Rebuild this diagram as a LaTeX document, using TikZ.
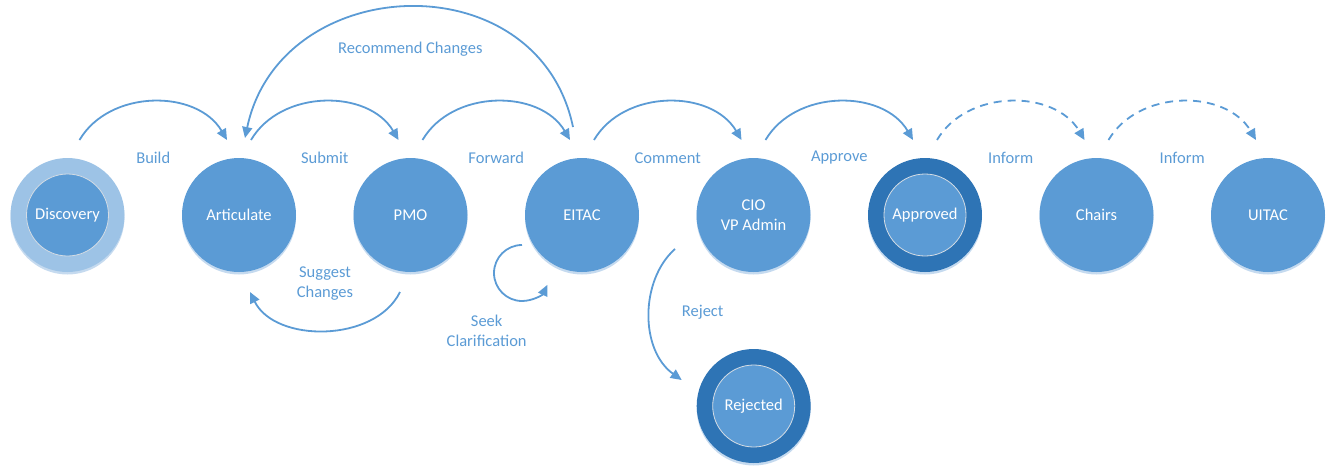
\documentclass[tikz,border=0pt]{standalone}
\usepackage{fontspec}
\setmainfont{Carlito}
\usetikzlibrary{arrows.meta,shadows}
\definecolor{cmain}{HTML}{5B9BD5}
\definecolor{clight}{HTML}{9DC3E6}
\definecolor{cdark}{HTML}{2E74B5}
\definecolor{cshadow}{HTML}{C5DAEF}
\definecolor{cedge}{HTML}{D4DCE4}
\definecolor{ctext}{HTML}{5B9BD5}
\tikzset{
  stnode/.style={circle, fill=cmain, minimum size=114pt, inner sep=0pt, text=white,
    font=\fontsize{16.5}{20}\selectfont, align=center,
    general shadow={fill=cshadow, shadow yshift=-2.5pt}},
  ringlight/.style={stnode, fill=clight},
  ringdark/.style={stnode, fill=cdark},
  innernode/.style={circle, fill=cmain, draw=cedge, line width=0.8pt, minimum size=82pt,
    inner sep=0pt, text=white, font=\fontsize{16.5}{20}\selectfont},
  lbl/.style={text=ctext, font=\fontsize{16.5}{20}\selectfont, align=center, inner sep=0pt},
  conn/.style={draw=cmain, line width=1.8pt, -{Triangle[length=11pt,width=10pt]}},
  dconn/.style={conn, dash pattern=on 8pt off 6pt},
}
\begin{document}
\begin{tikzpicture}[x=1pt,y=-1pt]
\useasboundingbox (0,0) rectangle (1331,466);
% nodes
\node[ringlight] (disc) at (67.5,215) {};
\node[innernode] (discin) at (disc.center) {Discovery};
\node[stnode] (art) at (239,215) {Articulate};
\node[stnode] (pmo) at (410.5,215) {PMO};
\node[stnode] (eitac) at (582,215) {EITAC};
\node[stnode] (cio) at (753.5,215) {CIO\\VP Admin};
\node[ringdark] (appr) at (925,215) {};
\node[innernode] (apprin) at (appr.center) {Approved};
\node[stnode] (chairs) at (1096.5,215) {Chairs};
\node[stnode] (uitac) at (1268,215) {UITAC};
\node[ringdark] (rej) at (753.7,406) {};
\node[innernode] (rejin) at (rej.center) {Rejected};
% connector end points
\foreach \n in {disc,art,pmo,eitac,cio,appr,chairs}{
  \coordinate (\n-os) at ([shift={(12,-75)}]\n.center);
}
\foreach \n in {art,pmo,eitac,cio,appr,chairs,uitac}{
  \coordinate (\n-ie) at ([shift={(-12,-75)}]\n.center);
}
\coordinate (eitac-rs) at ([shift={(-9,-88)}]eitac.center);
\coordinate (art-re) at ([shift={(6,-77)}]art.center);
\coordinate (pmo-ss) at ([shift={(-10.5,77)}]pmo.center);
\coordinate (art-se) at ([shift={(11,77)}]art.center);
\coordinate (eitac-ls) at ([shift={(-60,30)}]eitac.center);
\coordinate (cio-js) at ([shift={(-78.5,34)}]cio.center);
\coordinate (rej-je) at ([shift={(-72,-26)}]rej.center);
% forward arcs
\draw[conn] (disc-os) .. controls +(30,-51) and +(-30,-51) .. (art-ie);
\draw[conn] (art-os) .. controls +(30,-51) and +(-30,-51) .. (pmo-ie);
\draw[conn] (pmo-os) .. controls +(30,-51) and +(-30,-51) .. (eitac-ie);
\draw[conn] (eitac-os) .. controls +(30,-51) and +(-30,-51) .. (cio-ie);
\draw[conn] (cio-os) .. controls +(30,-51) and +(-30,-51) .. (appr-ie);
\draw[dconn] (appr-os) .. controls +(30,-51) and +(-30,-51) .. (chairs-ie);
\draw[dconn] (chairs-os) .. controls +(30,-51) and +(-30,-51) .. (uitac-ie);
% back arcs
\draw[conn] (eitac-rs) .. controls +(-35,-167) and +(35,-167) .. (art-re);
\draw[conn] (pmo-ss) .. controls +(-25,51) and +(25,51) .. (art-se);
\draw[conn] (eitac-ls) arc[start angle=-90, end angle=-335, radius=28];
\draw[conn] (cio-js) .. controls +(-35,31) and +(-42,-30) .. (rej-je);
% labels
\node[lbl] (l1) at (153.25,158) {Build};
\node[lbl] (l2) at (324.75,158) {Submit};
\node[lbl] (l3) at (496.25,158) {Forward};
\node[lbl] (l4) at (667.75,158) {Comment};
\node[lbl] (l5) at (839.25,158) {Approve};
\node[lbl] (l6) at (1010.75,158) {Inform};
\node[lbl] (l7) at (1182.25,158) {Inform};
\node[lbl] (l8) at (410.3,49) {Recommend Changes};
\node[lbl] (l9) at (325,284) {Suggest\\Changes};
\node[lbl] (l10) at (486.7,331) {Seek\\Clarification};
\node[lbl] (l11) at (702.7,312) {Reject};
\end{tikzpicture}
\end{document}
